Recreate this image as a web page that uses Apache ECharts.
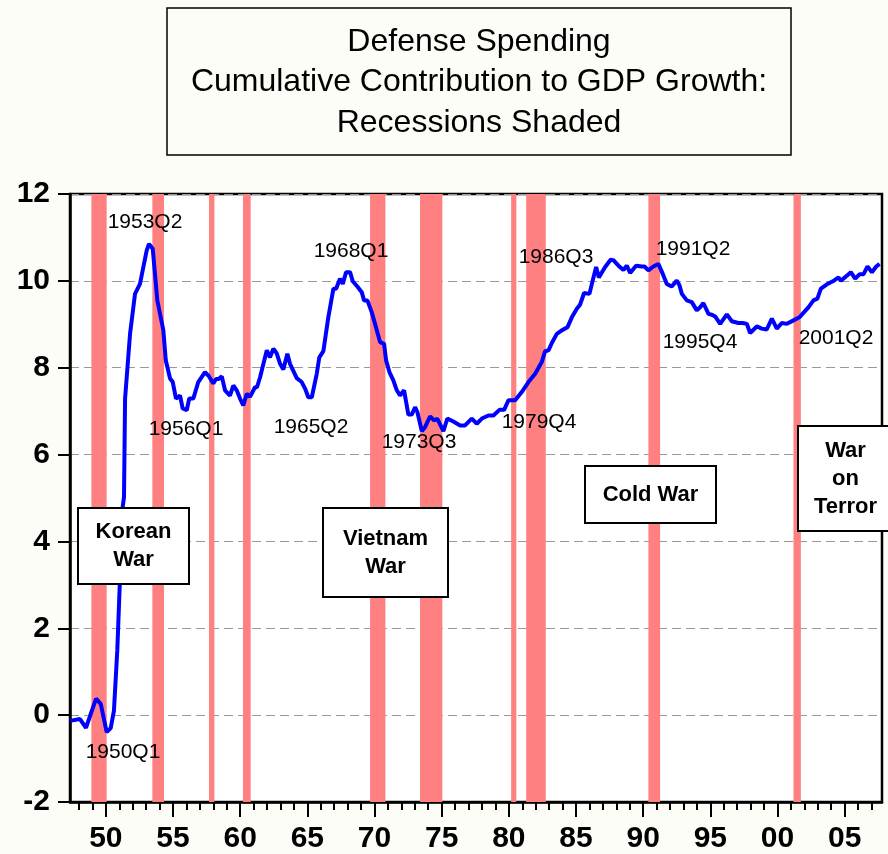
<!DOCTYPE html>
<html>
<head>
<meta charset="utf-8">
<script src="https://cdn.jsdelivr.net/npm/echarts@6/dist/echarts.min.js"></script>
<style>
  html, body { margin: 0; padding: 0; background: #fdfdf8; }
  #chart { width: 888px; height: 854px; }
</style>
</head>
<body>
<div id="chart"></div>
<script>
// quarter dates (decimal years) and cumulative contribution
const dates = [
  1947.35, 1947.53, 1948.07, 1948.52, 1949.27, 1949.62, 1950.06, 1950.36, 1950.6, 1950.85,
  1951.0, 1951.25, 1951.35, 1951.43, 1951.8, 1952.17, 1952.54, 1953.04, 1953.21, 1953.49,
  1953.83, 1954.28, 1954.46, 1954.78, 1954.98, 1955.22, 1955.52, 1955.72, 1956.02, 1956.21,
  1956.51, 1956.88, 1957.38, 1957.63, 1958.0, 1958.2, 1958.4, 1958.63, 1958.87, 1959.24,
  1959.49, 1959.74, 1959.99, 1960.23, 1960.49, 1960.73, 1961.1, 1961.25, 1961.48, 1961.98,
  1962.22, 1962.47, 1962.72, 1962.97, 1963.21, 1963.51, 1963.71, 1964.21, 1964.58, 1964.83,
  1965.07, 1965.33, 1965.7, 1965.89, 1966.19, 1966.56, 1966.94, 1967.14, 1967.43, 1967.64,
  1967.88, 1968.18, 1968.38, 1968.72, 1969.05, 1969.22, 1969.47, 1969.79, 1970.04, 1970.41,
  1970.71, 1970.86, 1971.11, 1971.4, 1971.66, 1971.9, 1972.2, 1972.52, 1972.77, 1973.02,
  1973.19, 1973.52, 1973.76, 1974.14, 1974.43, 1974.68, 1975.13, 1975.42, 1975.87, 1976.37,
  1976.74, 1977.24, 1977.61, 1977.99, 1978.48, 1978.85, 1979.3, 1979.65, 1979.97, 1980.47,
  1980.96, 1981.46, 1981.96, 1982.45, 1982.7, 1982.95, 1983.2, 1983.57, 1983.94, 1984.36,
  1984.69, 1985.06, 1985.3, 1985.6, 1986.0, 1986.3, 1986.5, 1986.7, 1987.17, 1987.59,
  1987.8, 1988.16, 1988.53, 1988.78, 1989.03, 1989.47, 1989.9, 1990.1, 1990.39, 1990.76,
  1991.13, 1991.46, 1991.76, 1992.13, 1992.5, 1992.7, 1992.88, 1993.25, 1993.62, 1993.99,
  1994.24, 1994.48, 1994.86, 1995.11, 1995.36, 1995.73, 1996.23, 1996.6, 1997.09, 1997.4,
  1997.72, 1997.96, 1998.46, 1998.83, 1999.2, 1999.58, 1999.95, 2000.32, 2000.7, 2001.19,
  2001.63, 2001.98, 2002.3, 2002.68, 2002.97, 2003.23, 2003.68, 2004.12, 2004.54, 2004.72,
  2005.16, 2005.46, 2005.78, 2006.1, 2006.4, 2006.7, 2007.03, 2007.35, 2007.6
];
const values = [
  -0.13, -0.12, -0.09, -0.29, 0.38, 0.26, -0.39, -0.30, 0.10, 1.49,
  2.72, 4.79, 5.02, 7.29, 8.78, 9.70, 9.93, 10.70, 10.85, 10.74,
  9.55, 8.86, 8.17, 7.75, 7.67, 7.29, 7.36, 7.06, 7.02, 7.29,
  7.29, 7.67, 7.90, 7.82, 7.64, 7.74, 7.74, 7.80, 7.48, 7.36,
  7.59, 7.48, 7.29, 7.13, 7.40, 7.33, 7.55, 7.55, 7.78, 8.40,
  8.24, 8.44, 8.33, 8.09, 7.96, 8.32, 8.09, 7.76, 7.67, 7.52,
  7.32, 7.32, 7.86, 8.24, 8.38, 9.16, 9.82, 9.82, 10.05, 9.93,
  10.20, 10.20, 9.99, 9.87, 9.74, 9.55, 9.55, 9.28, 9.01, 8.59,
  8.55, 8.17, 7.90, 7.71, 7.48, 7.36, 7.48, 6.92, 6.92, 7.09,
  6.98, 6.54, 6.63, 6.88, 6.79, 6.82, 6.54, 6.83, 6.76, 6.67,
  6.67, 6.83, 6.71, 6.83, 6.90, 6.90, 7.03, 7.03, 7.25, 7.25,
  7.44, 7.67, 7.86, 8.13, 8.38, 8.40, 8.57, 8.78, 8.86, 8.93,
  9.16, 9.36, 9.45, 9.72, 9.70, 10.08, 10.32, 10.08, 10.32, 10.49,
  10.47, 10.35, 10.25, 10.35, 10.18, 10.35, 10.33, 10.33, 10.24, 10.33,
  10.39, 10.16, 9.93, 9.87, 10.01, 9.90, 9.70, 9.55, 9.51, 9.32,
  9.39, 9.49, 9.24, 9.22, 9.18, 9.01, 9.23, 9.07, 9.03, 9.03,
  9.01, 8.80, 8.95, 8.90, 8.88, 9.13, 8.90, 9.03, 9.01, 9.09,
  9.16, 9.28, 9.39, 9.55, 9.59, 9.82, 9.92, 9.99, 10.08, 10.00,
  10.12, 10.20, 10.05, 10.15, 10.15, 10.33, 10.20, 10.33, 10.39
];

// recession periods (start, end)
const recStart = [1948.92, 1953.46, 1957.68, 1960.21, 1969.67, 1973.39, 1980.17, 1981.29, 1990.39, 2001.19];
const recEnd   = [1950.06, 1954.33, 1958.08, 1960.78, 1970.81, 1975.05, 1980.56, 1982.75, 1991.26, 2001.74];

const majorTicks = [1950, 1955, 1960, 1965, 1970, 1975, 1980, 1985, 1990, 1995, 2000, 2005];
const yTicks = [-2, 0, 2, 4, 6, 8, 10, 12];

const titleLines = ['Defense Spending', 'Cumulative Contribution to GDP Growth:', 'Recessions Shaded'];

// point labels and war boxes
const peakLabels = [
  { text: '1953Q2', x: 145, y: 222 },
  { text: '1950Q1', x: 123, y: 752 },
  { text: '1956Q1', x: 186, y: 429 },
  { text: '1965Q2', x: 311, y: 427 },
  { text: '1968Q1', x: 351, y: 251 },
  { text: '1973Q3', x: 419, y: 442 },
  { text: '1979Q4', x: 539, y: 422 },
  { text: '1986Q3', x: 556, y: 257 },
  { text: '1991Q2', x: 693, y: 249 },
  { text: '1995Q4', x: 700, y: 342 },
  { text: '2001Q2', x: 836, y: 338 }
];
const warBoxes = [
  { text: 'Korean\nWar', x: 78, y: 508, w: 111, h: 76 },
  { text: 'Vietnam\nWar', x: 323, y: 508, w: 125, h: 89 },
  { text: 'Cold War', x: 585, y: 466, w: 131, h: 57 },
  { text: 'War\non\nTerror', x: 798, y: 426, w: 95, h: 105 }
];

const minorTicks = [];
for (let yr = 1948; yr <= 2007; yr++) minorTicks.push(yr);

const chart = echarts.init(document.getElementById('chart'));

const graphics = [];
graphics.push({
  type: 'rect', z: 100,
  shape: { x: 167, y: 8, width: 624, height: 147 },
  style: { fill: '#fdfdf8', stroke: '#000', lineWidth: 1.5 }
});
titleLines.forEach((t, i) => {
  graphics.push({
    type: 'text', z: 101,
    x: 479, y: 42 + i * 40.5,
    style: { text: t, font: '32px "Liberation Sans", Arial, sans-serif', fill: '#000', align: 'center', verticalAlign: 'middle' }
  });
});
peakLabels.forEach(p => {
  graphics.push({
    type: 'text', z: 101,
    x: p.x, y: p.y,
    style: { text: p.text, font: '21px "Liberation Sans", Arial, sans-serif', fill: '#000', align: 'center', verticalAlign: 'middle' }
  });
});
warBoxes.forEach(b => {
  graphics.push({
    type: 'rect', z: 102,
    shape: { x: b.x, y: b.y, width: b.w, height: b.h },
    style: { fill: '#fff', stroke: '#000', lineWidth: 2 }
  });
  graphics.push({
    type: 'text', z: 103,
    x: b.x + b.w / 2, y: b.y + b.h / 2,
    style: { text: b.text, font: 'bold 22px "Liberation Sans", Arial, sans-serif', lineHeight: 28, fill: '#000', align: 'center', verticalAlign: 'middle' }
  });
});

const xCommon = {
  type: 'value',
  min: 1947.33,
  max: 2007.78,
  position: 'bottom',
  splitLine: { show: false }
};

chart.setOption({
  backgroundColor: '#fdfdf8',
  animation: false,
  grid: {
    left: 70, right: 6, top: 194, bottom: 52,
    show: true, backgroundColor: '#fff', borderColor: '#000', borderWidth: 2.5
  },
  xAxis: [
    Object.assign({}, xCommon, {
      axisLine: { onZero: false, lineStyle: { color: '#000', width: 2.5 } },
      axisTick: { customValues: majorTicks, length: 15, lineStyle: { color: '#000', width: 2 } },
      axisLabel: {
        customValues: majorTicks,
        formatter: v => String(Math.round(v) % 100).padStart(2, '0'),
        color: '#000', fontWeight: 'bold', fontSize: 30, margin: 22,
        fontFamily: '"Liberation Sans", Arial, sans-serif'
      }
    }),
    Object.assign({}, xCommon, {
      axisLine: { show: false, onZero: false },
      axisTick: { customValues: minorTicks, length: 8, lineStyle: { color: '#000', width: 2 } },
      axisLabel: { show: false }
    })
  ],
  yAxis: {
    type: 'value',
    min: yTicks[0], max: yTicks[yTicks.length - 1], interval: 2,
    axisLine: { show: true, lineStyle: { color: '#000', width: 2.5 } },
    axisTick: { show: true, length: 12, lineStyle: { color: '#000', width: 2 } },
    axisLabel: {
      color: '#000', fontWeight: 'bold', fontSize: 30, margin: 20,
      fontFamily: '"Liberation Sans", Arial, sans-serif'
    },
    splitLine: { lineStyle: { color: '#999', type: [9, 5], width: 1.2 } }
  },
  series: [{
    type: 'line',
    data: dates.map((d, i) => [d, values[i]]),
    showSymbol: false,
    z: 5,
    lineStyle: { color: '#0000ff', width: 4 },
    markArea: {
      silent: true,
      itemStyle: { color: '#ff8080', opacity: 1 },
      data: recStart.map((s, i) => [{ xAxis: s }, { xAxis: recEnd[i] }])
    }
  }],
  graphic: graphics
});
</script>
</body>
</html>
